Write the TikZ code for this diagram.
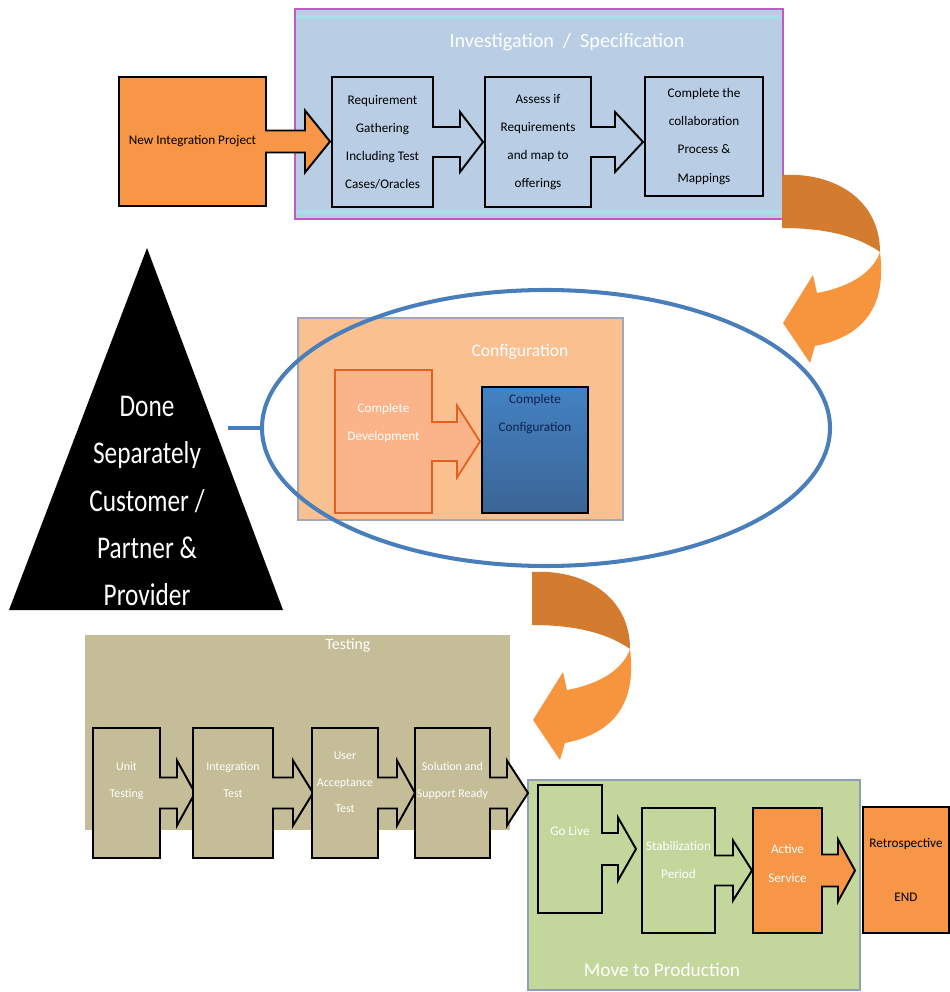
\documentclass[tikz,border=0pt]{standalone}
\usepackage{fontspec}
\setmainfont{Carlito}
\newfontfamily\donefont[FakeStretch=0.8]{Carlito}
\usetikzlibrary{shapes.geometric, calc, positioning}
\pgfdeclarelayer{groups}
\pgfdeclarelayer{shapes}
\pgfsetlayers{groups,shapes,main}

\definecolor{offorange}{HTML}{F79646}
\definecolor{invblue}{HTML}{B9CDE5}
\definecolor{invframe}{HTML}{C05CC0}
\definecolor{invband}{HTML}{A9DDEA}
\definecolor{cfgorange}{HTML}{FAC090}
\definecolor{cfgframe}{HTML}{9FA8B8}
\definecolor{devfill}{HTML}{FBB48A}
\definecolor{devframe}{HTML}{E4601E}
\definecolor{cfgtext}{HTML}{102050}
\definecolor{testtan}{HTML}{C4BD97}
\definecolor{prodgreen}{HTML}{C3D69B}
\definecolor{prodframe}{HTML}{8EA0B5}
\definecolor{ringblue}{HTML}{4A7EBB}
\definecolor{turndark}{HTML}{D37B2E}
\definecolor{turnlight}{HTML}{F7953F}

% box with an arrow on its right side: node, style, shaft length, shaft half height, head length, head half height
\newcommand{\boxarrow}[6]{%
  \path[#2] (#1.north west) -- (#1.north east) -- ($(#1.east)+(0,-#4)$)
    -- ($(#1.east)+(#3,-#4)$) -- ($(#1.east)+(#3,-#6)$) -- ($(#1.east)+(#3+#5,0)$)
    -- ($(#1.east)+(#3,#6)$) -- ($(#1.east)+(#3,#4)$) -- ($(#1.east)+(0,#4)$)
    -- (#1.south east) -- (#1.south west) -- cycle;}

\tikzset{
    boxsize/.style 2 args={minimum width=#1*0.2mm, minimum height=#2*0.2mm},
    groupbox/.style={rectangle, inner sep=0pt, outer sep=0pt},
    grouptitle/.style={text=white, font=\fontsize{10}{12}\selectfont},
    stepbox/.style={rectangle, inner sep=0.5pt, outer sep=0pt, align=center, font=\fontsize{7.5}{16}\selectfont},
    teststep/.style={stepbox, text=white, font=\fontsize{6.8}{15}\selectfont},
    prodstep/.style={stepbox, text=white},
    invshape/.style={fill=invblue, draw=black, line width=1.1pt},
    orangeshape/.style={fill=offorange, draw=black, line width=1.1pt},
    devshape/.style={fill=devfill, draw=devframe, line width=1pt},
    testshape/.style={fill=testtan, draw=black, line width=1.1pt},
    prodshape/.style={fill=prodgreen, draw=black, line width=1.1pt},
    ringline/.style={draw=ringblue, line width=2.3pt},
    turnarrow/.pic={
        \fill[turndark] (0,0) .. controls (53,-3) and (98,25) .. (98,77)
            .. controls (78,63) and (48,53) .. (0,53) -- cycle;
        \fill[turnlight] (98,77) .. controls (104,125) and (88,160) .. (33,171)
            -- (28,188) -- (1,148) -- (31,100) -- (35,118)
            .. controls (63,113) and (90,100) .. (98,77) -- cycle;
    }
}

\begin{document}
\begin{tikzpicture}[x=0.2mm, y=-0.2mm]
    \useasboundingbox (0,0) rectangle (949,992);

    % group panels
    \begin{pgfonlayer}{groups}
        \node[groupbox, boxsize={488}{210}, fill=invblue, draw=invframe, line width=1.4pt] (inv) at (539,114) {};
        \draw[invband, line width=2.5pt] ($(inv.north west)+(2,8)$) -- ($(inv.north east)+(-2,8)$);
        \draw[invband, line width=2.5pt] ($(inv.south west)+(2,-7)$) -- ($(inv.south east)+(-2,-7)$);
        \node[groupbox, boxsize={325}{202}, fill=cfgorange, draw=cfgframe, line width=0.6pt] (cfg) at (460.5,419) {};
        \node[groupbox, boxsize={425}{195}, fill=testtan] (test) at (297.5,732.5) {};
        \node[groupbox, boxsize={332}{210}, fill=prodgreen, draw=prodframe, line width=0.6pt] (prod) at (694,885) {};
    \end{pgfonlayer}

    \node[grouptitle, font=\fontsize{11.5}{13}\selectfont] (invtitle) at (567,42) {Investigation\ \ /\ \ Specification};
    \node[grouptitle] (cfgtitle) at (520,352) {Configuration};
    \node[grouptitle, font=\fontsize{9}{11}\selectfont] (testtitle) at (348,645) {Testing};
    \node[grouptitle, font=\fontsize{11}{13}\selectfont] (prodtitle) at (662,970) {Move to Production};

    % investigation / specification
    \node[stepbox, boxsize={147}{129}] (newproj) at (192.5,141.5) {New Integration Project};
    \node[stepbox, boxsize={101}{130}] (reqgath) at (382.5,142) {Requirement\\Gathering\\Including Test\\Cases/Oracles};
    \node[stepbox, boxsize={106}{130}] (assess) at (538,142) {Assess if\\Requirements\\and map to\\offerings};
    \node[stepbox, invshape, boxsize={118}{119}] (collab) at (704,136.5) {Complete the\\collaboration\\Process \&\\Mappings};

    % configuration
    \node[stepbox, boxsize={97}{143}, text=white, text depth=22pt] (cdev) at (383.5,441.5) {Complete\\Development};
    \node[stepbox, boxsize={106}{126}, top color=blue!35!cyan!10!ringblue, bottom color=ringblue!80!black,
          draw=black, line width=1.1pt, text=cfgtext, text depth=42pt] (cconf) at (535,450) {Complete\\Configuration};

    % testing
    \node[teststep, boxsize={67}{130}, text depth=15pt] (unit) at (126.5,793) {Unit\\Testing};
    \node[teststep, boxsize={80}{130}, text depth=15pt] (integ) at (233,793) {Integration\\Test};
    \node[teststep, boxsize={66}{130}, text depth=12pt] (uat) at (345,793) {User\\Acceptance\\Test};
    \node[teststep, boxsize={75}{130}, text depth=15pt] (solready) at (452.5,793) {Solution and\\Support Ready};

    % move to production
    \node[prodstep, boxsize={64}{128}, text depth=20pt] (golive) at (570,849) {Go Live};
    \node[prodstep, boxsize={73}{125}, text depth=12pt] (stabil) at (678.5,870.5) {Stabilization\\Period};
    \node[prodstep, boxsize={69}{125}, text depth=8pt] (active) at (787.5,870.5) {Active\\Service};
    \node[stepbox, orangeshape, boxsize={86}{126}] (retro) at (906,870) {Retrospective\\[15pt]END};

    \begin{pgfonlayer}{shapes}
        \boxarrow{newproj}{orangeshape}{39}{11}{25}{31}
        \boxarrow{reqgath}{invshape}{27}{15}{23}{30}
        \boxarrow{assess}{invshape}{24}{15}{28}{30}
        \boxarrow{cdev}{devshape}{25}{19.5}{23}{36}
        \boxarrow{unit}{testshape}{17}{15.5}{18}{32.5}
        \boxarrow{integ}{testshape}{20}{15.5}{20}{32.5}
        \boxarrow{uat}{testshape}{19}{15.5}{18}{32.5}
        \boxarrow{solready}{testshape}{17}{15.5}{21}{32.5}
        \boxarrow{golive}{prodshape}{16}{16}{18}{31.5}
        \boxarrow{stabil}{prodshape}{18}{15}{19}{30}
        \boxarrow{active}{orangeshape}{16}{16}{17}{31}
    \end{pgfonlayer}

    % side note and the ring round configuration
    \fill[black] (147,248) -- (283,610) -- (9,610) -- cycle;
    \node[align=center, text=white, font=\donefont\fontsize{18}{27}\selectfont] (done) at (147,501)
        {Done\\Separately\\Customer /\\Partner \&\\Provider};
    \coordinate (triedge) at (228,428);
    \node[ellipse, ringline, boxsize={568}{276}] (ring) at (546,428) {};
    \draw[ringline] (triedge) -- (ring.west);

    % turning arrows between the phases
    \pic at (782,175) {turnarrow};
    \pic at (532,572) {turnarrow};
\end{tikzpicture}
\end{document}
